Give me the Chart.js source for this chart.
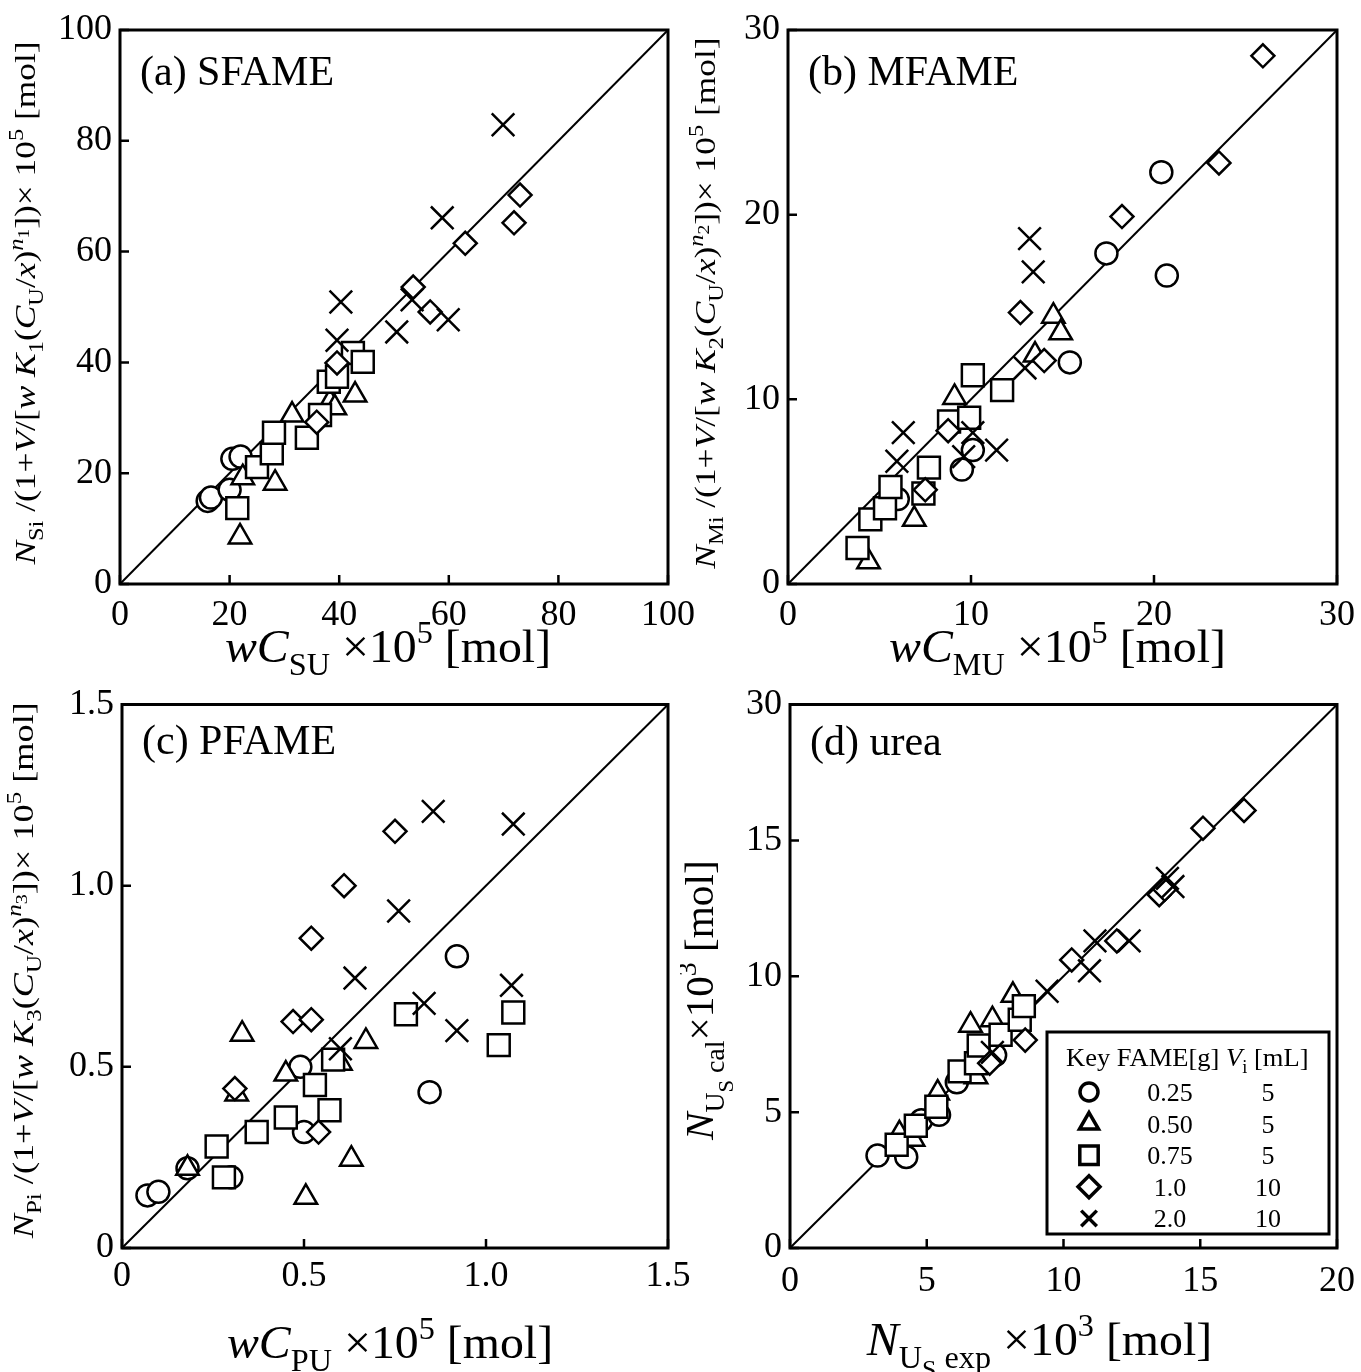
<!DOCTYPE html>
<html>
<head>
<meta charset="utf-8">
<script src="https://cdn.jsdelivr.net/npm/chart.js@4.4.1/dist/chart.umd.min.js"></script>
<style>
body { margin: 0; background: #fff; }
#wrap { position: relative; width: 1361px; height: 1372px; overflow: hidden; }
canvas { position: absolute; }
</style>
</head>
<body>
<div id="wrap">
<canvas id="pa" width="720" height="686" style="left:0;top:0"></canvas>
<canvas id="pb" width="681" height="686" style="left:680px;top:0"></canvas>
<canvas id="pc" width="720" height="686" style="left:0;top:686px"></canvas>
<canvas id="pd" width="681" height="686" style="left:680px;top:686px"></canvas>
</div>
<script>
// (a) SFAME  [x, y]
const sCircle = [[16,15],[16.6,15.6],[20,17],[20.5,22.6],[22,23]];
const sTriangle = [[21.9,8.5],[22.4,19.2],[28.3,18.2],[31.4,30.5],[38.3,32.8],[39.2,31.8],[42.9,34.1]];
const sSquare = [[21.4,13.7],[25,21.1],[27.7,23.6],[28.1,27.3],[34.1,26.4],[36.5,30.5],[38.1,36.5],[39.6,37.4],[42.5,41.7],[44.3,40.1]];
const sDiamond = [[35.9,29.2],[39.6,39.9],[53.5,53.6],[56.6,49.1],[63,61.5],[71.9,65.2],[73,70.2]];
const sCross = [[39.6,44],[40.3,50.9],[50.5,45.5],[53.3,51.3],[58.8,66.1],[59.9,47.7],[69.9,82.9]];

// (b) MFAME
const mCircle = [[6.0,4.6],[9.5,6.2],[10.1,7.25],[15.4,12.0],[17.4,17.9],[20.4,22.3],[20.7,16.7]];
const mTriangle = [[4.4,1.2],[6.9,3.5],[9.1,10.1],[13.5,12.4],[14.5,14.5],[14.9,13.6]];
const mSquare = [[3.8,1.95],[4.5,3.5],[5.3,4.1],[5.6,5.25],[7.4,4.9],[7.7,6.3],[8.8,8.8],[9.9,9.0],[10.1,11.3],[11.7,10.5]];
const mDiamond = [[7.5,5.1],[8.75,8.3],[12.7,14.7],[14.0,12.1],[18.25,19.9],[23.55,22.8],[25.95,28.6]];
const mCross = [[5.95,6.65],[6.3,8.2],[9.6,6.9],[10.1,8.2],[11.4,7.25],[12.95,11.7],[13.2,18.7],[13.4,16.9]];

// (c) PFAME
const pCircle = [[0.07,0.145],[0.10,0.155],[0.18,0.22],[0.30,0.195],[0.49,0.50],[0.50,0.32],[0.845,0.43],[0.92,0.805]];
const pTriangle = [[0.18,0.22],[0.315,0.425],[0.33,0.59],[0.45,0.48],[0.505,0.14],[0.60,0.51],[0.63,0.245],[0.67,0.57]];
const pSquare = [[0.26,0.28],[0.28,0.195],[0.37,0.32],[0.45,0.36],[0.53,0.45],[0.57,0.38],[0.58,0.52],[0.78,0.645],[1.035,0.56],[1.075,0.65]];
const pDiamond = [[0.31,0.44],[0.47,0.625],[0.52,0.63],[0.52,0.855],[0.54,0.32],[0.61,1.0],[0.75,1.15]];
const pCross = [[0.60,0.55],[0.64,0.745],[0.76,0.93],[0.83,0.675],[0.855,1.205],[0.92,0.60],[1.07,0.725],[1.075,1.17]];

// (d) urea
const uCircle = [[3.2,3.4],[4.25,3.35],[4.8,4.7],[5.45,4.9],[6.1,6.1],[7.5,7.1]];
const uTriangle = [[4.0,4.2],[4.5,4.0],[5.4,5.7],[6.8,6.3],[6.6,8.2],[7.4,8.4],[8.15,9.3]];
const uSquare = [[3.9,3.8],[4.6,4.5],[5.35,5.2],[6.2,6.5],[6.8,6.8],[6.9,7.45],[7.7,7.85],[8.4,8.4],[8.55,8.9]];
const uDiamond = [[7.3,6.8],[8.6,7.65],[10.3,10.6],[11.95,11.3],[13.5,13.0],[13.7,13.2],[15.1,15.45],[16.6,16.1]];
const uCross = [[7.4,7.2],[9.4,9.45],[10.95,10.2],[11.15,11.3],[12.4,11.3],[13.8,13.6],[14.0,13.3]];

// axis ranges and tick labels
const diagA = [0, 100], diagB = [0, 30], diagC = [0, 1.5], diagD = [0, 20];
const ticksA = ['0','20','40','60','80','100'];
const ticksB = ['0','10','20','30'];
const ticksC = ['0','0.5','1.0','1.5'];
const ticksDx = ['0','5','10','15','20'];
const ticksDy = ['0','5','10','15','30'];

// legend table
const legendFame = ['0.25','0.50','0.75','1.0','2.0'];
const legendVol = ['5','5','5','10','10'];

const SERIF = '"Liberation Serif", "Times New Roman", serif';
const markers = [
  { style: 'circle', r: 11, lr: 9 },
  { style: 'triangle', r: 13, lr: 11 },
  { style: 'rect', r: 15.5, lr: 13 },
  { style: 'rectRot', r: 11.5, lr: 11 },
  { style: 'crossRot', r: 16, lr: 11 }
];

// rich text: level -> [size factor, baseline shift]
const LV = { n: [1, 0], sub: [0.68, 0.28], sup: [0.68, -0.42], ss: [0.55, 0.5], ps: [0.55, -0.22] };
const R = (t, l) => ({ t, i: false, l: l || 'n' });
const I = (t, l) => ({ t, i: true, l: l || 'n' });
function fontFor(s, size) {
  return (s.i ? 'italic ' : '') + Math.round(size * LV[s.l][0]) + 'px ' + SERIF;
}
function drawRich(ctx, segs, x, y, size, rot, align, stretch) {
  ctx.save();
  ctx.translate(x, y);
  if (rot) ctx.rotate(-Math.PI / 2);
  ctx.scale(stretch || 1, 1);
  let w = 0;
  segs.forEach(s => { ctx.font = fontFor(s, size); w += ctx.measureText(s.t).width; });
  let cx = align === 'left' ? 0 : -w / 2;
  ctx.textAlign = 'left';
  ctx.textBaseline = 'alphabetic';
  ctx.fillStyle = '#000';
  segs.forEach(s => {
    ctx.font = fontFor(s, size);
    ctx.fillText(s.t, cx, size * LV[s.l][1]);
    cx += ctx.measureText(s.t).width;
  });
  ctx.restore();
}

function yTitle(sub, k) {
  return [I('N'), R(sub, 'sub'), R(' /(1+'), I('V'), R('/['), I('w'), R(' '), I('K'), R(k, 'sub'),
    R('('), I('C'), R('U', 'sub'), R('/'), I('x'), R(')'), I('n', 'sup'), R(k, 'ps'),
    R('])× 10'), R('5', 'sup'), R(' [mol]')];
}
function xTitle(sub) {
  return [I('w'), I('C'), R(sub, 'sub'), R(' ×10'), R('5', 'sup'), R(' [mol]')];
}

const panelCfg = {
  pa: { label: '(a) SFAME', ldy: 55, xt: xTitle('SU'), xdx: -6, xdy: 78, xs: 46,
        yt: yTitle('Si', '1'), yx: 35, ydy: -4, ys: 29, yst: 1.22 },
  pb: { label: '(b) MFAME', ldy: 55, xt: xTitle('MU'), xdx: -5, xdy: 78, xs: 46,
        yt: yTitle('Mi', '2'), yx: 35, ydy: -4, ys: 29, yst: 1.22 },
  pc: { label: '(c) PFAME', ldy: 49, xt: xTitle('PU'), xdx: -5, xdy: 110, xs: 46,
        yt: yTitle('Pi', '3'), yx: 33, ydy: -6, ys: 29, yst: 1.25 },
  pd: { label: '(d) urea', ldy: 50,
        xt: [I('N'), R('U', 'sub'), R('S', 'ss'), R(' exp', 'sub'), R(' ×10'), R('3', 'sup'), R(' [mol]')],
        xdx: -24, xdy: 107, xs: 46,
        yt: [I('N'), R('U', 'sub'), R('S', 'ss'), R(' cal', 'sub'), R('×10'), R('3', 'sup'), R(' [mol]')],
        yx: 33, ydy: 24, ys: 40, yst: 1.03, legend: true }
};

function drawLegend(ctx, a) {
  const w = 282, h = 202;
  const L = a.right - 8 - w, T = a.bottom - 14 - h;
  ctx.fillStyle = '#fff';
  ctx.fillRect(L, T, w, h);
  ctx.strokeStyle = '#000';
  ctx.lineWidth = 3;
  ctx.strokeRect(L, T, w, h);
  drawRich(ctx, [R('Key FAME[g] '), I('V'), R('i', 'sub'), R(' [mL]')], L + 19, T + 34, 26, false, 'left', 1.02);
  legendFame.forEach((f, i) => {
    const cy = T + 60 + i * 31.6;
    ctx.fillStyle = '#fff';
    ctx.strokeStyle = '#000';
    ctx.lineWidth = 3.5;
    Chart.helpers.drawPoint(ctx, { pointStyle: markers[i].style, radius: markers[i].lr, rotation: 0, borderWidth: 3.5 }, L + 42, cy);
    ctx.fillStyle = '#000';
    ctx.font = '26px ' + SERIF;
    ctx.textAlign = 'center';
    ctx.fillText(f, L + 123, cy + 9);
    ctx.fillText(legendVol[i], L + 221, cy + 9);
  });
}

const decor = {
  id: 'decor',
  afterDatasetsDraw(chart) {
    const o = panelCfg[chart.canvas.id];
    const ctx = chart.ctx, a = chart.chartArea;
    const xs = chart.scales.x, ys = chart.scales.y;
    ctx.save();
    ctx.strokeStyle = '#000';
    ctx.lineWidth = 3;
    ctx.strokeRect(a.left, a.top, a.right - a.left, a.bottom - a.top);
    ctx.lineWidth = 2.5;
    ctx.beginPath();
    xs.ticks.forEach(t => {
      const px = xs.getPixelForValue(t.value);
      ctx.moveTo(px, a.bottom); ctx.lineTo(px, a.bottom - 9);
    });
    ys.ticks.forEach(t => {
      const py = ys.getPixelForValue(t.value);
      ctx.moveTo(a.left, py); ctx.lineTo(a.left + 9, py);
    });
    ctx.stroke();
    ctx.fillStyle = '#000';
    ctx.font = '42px ' + SERIF;
    ctx.textAlign = 'left';
    ctx.textBaseline = 'alphabetic';
    ctx.fillText(o.label, a.left + 20, a.top + o.ldy);
    drawRich(ctx, o.xt, (a.left + a.right) / 2 + o.xdx, a.bottom + o.xdy, o.xs, false, 'center', 1.04);
    drawRich(ctx, o.yt, o.yx, (a.top + a.bottom) / 2 + o.ydy, o.ys, true, 'center', o.yst);
    if (o.legend) drawLegend(ctx, a);
    ctx.restore();
  }
};

function axis(pos, range, step, labels, pad, size) {
  return {
    type: 'linear', position: pos, min: range[0], max: range[1],
    grid: { display: false, drawTicks: false },
    border: { display: false },
    ticks: {
      stepSize: step, padding: pad, color: '#000', autoSkip: false, maxRotation: 0,
      font: { family: SERIF, size: 36 },
      callback: (v, i) => labels[i]
    },
    afterFit: s => {
      if (s.isHorizontal()) s.height = size; else s.width = size;
      s.paddingLeft = s.paddingRight = s.paddingTop = s.paddingBottom = 0;
    }
  };
}

function toPts(arr) { return arr.map(p => ({ x: p[0], y: p[1] })); }

function makePanel(id, area, series, diag, step, xLabels, yLabels, xPad) {
  const cv = document.getElementById(id);
  const yW = area.l - 10, xH = 60;
  const datasets = series.map((s, i) => ({
    data: toPts(s),
    pointStyle: markers[i].style,
    pointRadius: markers[i].r,
    pointBorderWidth: 2.5,
    pointBackgroundColor: '#fff',
    pointBorderColor: '#000',
    order: 5 - i
  }));
  datasets.push({
    data: [{ x: diag[0], y: diag[0] }, { x: diag[1], y: diag[1] }],
    showLine: true, borderColor: '#000', borderWidth: 2, pointRadius: 0, order: 10
  });
  new Chart(cv, {
    type: 'scatter',
    data: { datasets },
    options: {
      responsive: false,
      animation: false,
      layout: { padding: { left: 10, top: area.t, right: cv.width - area.r, bottom: cv.height - area.b - xH } },
      plugins: { legend: { display: false }, tooltip: { enabled: false } },
      scales: {
        x: axis('bottom', diag, step, xLabels, xPad, xH),
        y: axis('left', diag, step, yLabels, 8, yW)
      }
    },
    plugins: [decor]
  });
}

makePanel('pa', { l: 120, t: 30, r: 668, b: 584 }, [sCircle, sTriangle, sSquare, sDiamond, sCross],
  diagA, 20, ticksA, ticksA, 10);
makePanel('pb', { l: 108, t: 30, r: 657, b: 584 }, [mCircle, mTriangle, mSquare, mDiamond, mCross],
  diagB, 10, ticksB, ticksB, 10);
makePanel('pc', { l: 122, t: 12, r: 668, b: 562 }, [pCircle, pTriangle, pSquare, pDiamond, pCross],
  diagC, 0.5, ticksC, ticksC, 7);
makePanel('pd', { l: 110, t: 12, r: 657, b: 562 }, [uCircle, uTriangle, uSquare, uDiamond, uCross],
  diagD, 5, ticksDx, ticksDy, 12);
</script>
</body>
</html>
